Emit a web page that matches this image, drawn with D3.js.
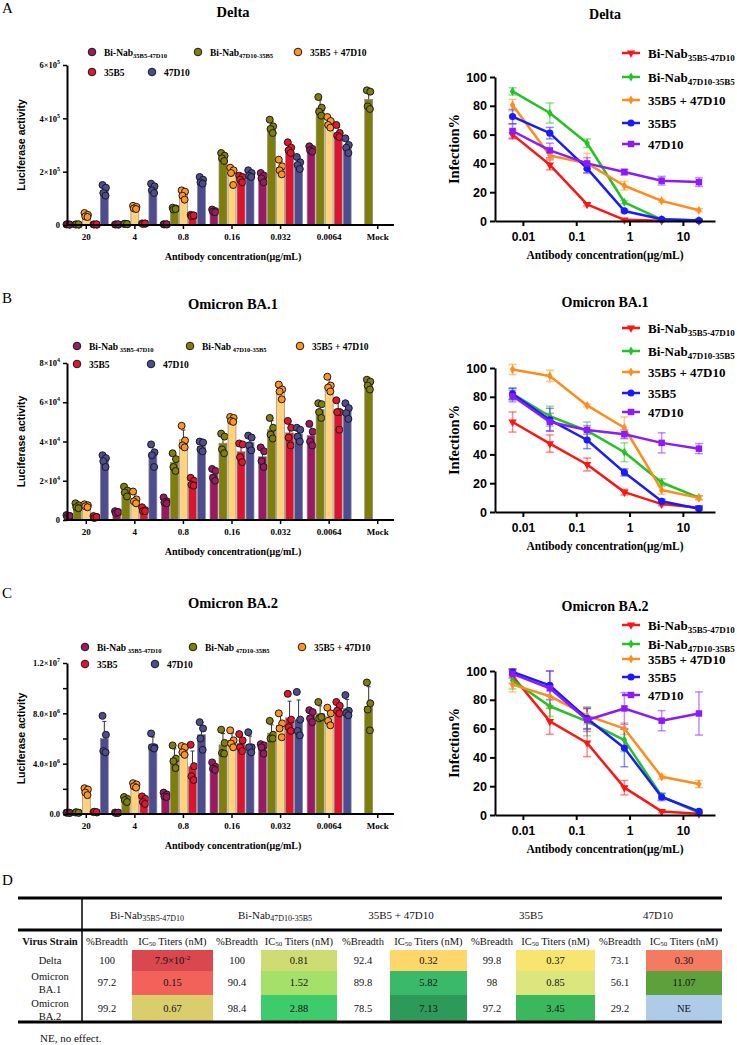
<!DOCTYPE html>
<html>
<head>
<meta charset="utf-8">
<script src="https://cdn.jsdelivr.net/npm/d3@7"></script>
<style>
  body { margin: 0; background: #fff; }
  svg { display: block; }
</style>
</head>
<body>
<svg id="fig" width="737" height="1045"></svg>
<script>
// ---------- data ----------
const concLabels = ["20", "4", "0.8", "0.16", "0.032", "0.0064"];
const barCats = concLabels.concat(["Mock"]);
const concValues = [20, 4, 0.8, 0.16, 0.032, 0.0064];

const seriesLabels = [["Bi-Nab", "35B5-47D10"], ["Bi-Nab", "47D10-35B5"], ["35B5 + 47D10", ""], ["35B5", ""], ["47D10", ""]];

// luciferase replicates, Delta (x1e5), order = concLabels (+ Mock for olive)
const deltaBn1 = [[0.02,0.01,0.03,0.02],[0.02,0.01,0.02,0.03],[0.03,0.02,0.02,0.03],[0.58,0.52,0.5,0.48],[1.95,1.85,1.75,1.6],[2.95,2.85,2.8,2.75]];
const deltaBn2 = [[0.02,0.01,0.02,0.03],[0.04,0.03,0.05,0.04],[0.65,0.62,0.58,0.6],[2.7,2.6,2.5,2.4],[3.95,3.7,3.6,3.45],[4.8,4.4,4.25,4.1],[5.05,5.0,4.45,4.35]];
const deltaCombo = [[0.45,0.38,0.32,0.3],[0.72,0.68,0.62,0.6],[1.3,1.25,1.1,0.95],[2.15,2.05,1.95,1.5],[2.45,2.2,2.05,1.9],[4.05,3.9,3.75,3.65]];
const delta35 = [[0.02,0.01,0.02,0.03],[0.06,0.05,0.04,0.06],[0.38,0.35,0.33,0.36],[1.85,1.8,1.7,1.6],[3.1,2.9,2.8,2.7],[3.75,3.45,3.35,3.3]];
const delta47 = [[1.5,1.4,1.2,1.1],[1.55,1.45,1.3,1.2],[1.8,1.7,1.6,1.55],[2.05,1.95,1.85,1.8],[2.55,2.35,2.25,2.1],[3.25,3.0,2.9,2.7]];
const deltaYTicks = [0, 2, 4, 6];
const deltaYTickLabels = [["0", ""], ["2×10", "5"], ["4×10", "5"], ["6×10", "5"]];

// Omicron BA.1 (x1e4)
const ba1Bn1 = [[0.25,0.2,0.15,0.2],[0.45,0.4,0.35,0.4],[1.15,0.95,0.9,0.85],[2.6,2.5,2.15,2.0],[3.7,3.5,3.0,2.7],[4.9,4.5,4.0,3.8]];
const ba1Bn2 = [[0.85,0.75,0.65,0.6],[1.7,1.5,1.4,1.2],[3.4,3.1,2.7,2.5],[4.4,4.25,3.6,3.4],[5.2,4.7,4.35,4.15],[5.95,5.9,5.5,5.2],[7.15,7.05,6.85,6.65]];
const ba1Combo = [[0.8,0.75,0.7,0.65],[1.45,1.05,0.95,0.85],[4.8,4.05,3.8,3.7],[5.25,5.2,5.05,5.0],[6.9,6.65,6.55,6.15],[7.3,6.85,6.75,6.55]];
const ba135 = [[0.2,0.15,0.1,0.15],[0.65,0.5,0.45,0.45],[2.15,2.0,1.8,1.75],[3.9,3.85,3.2,2.95],[5.05,4.7,4.2,3.8],[6.1,5.5,5.5,4.6]];
const ba147 = [[3.3,3.15,3.0,2.7],[3.85,3.45,3.3,2.7],[4.0,3.95,3.6,3.5],[4.3,4.2,3.8,3.55],[4.7,4.6,4.25,4.0],[5.95,5.7,5.45,5.15]];
const ba1YTicks = [0, 2, 4, 6, 8];
const ba1YTickLabels = [["0", ""], ["2×10", "4"], ["4×10", "4"], ["6×10", "4"], ["8×10", "4"]];

// Omicron BA.2 (x1e6)
const ba2Bn1 = [[0.1,0.08,0.12,0.1],[0.12,0.1,0.08,0.1],[1.7,1.55,1.4,1.35],[4.1,3.75,3.6,3.5],[5.55,5.45,5.3,4.8],[8.25,8.1,7.6,7.3]];
const ba2Bn2 = [[0.12,0.1,0.14,0.1],[1.35,1.2,1.1,0.95],[5.45,4.4,4.2,3.65],[6.7,5.65,4.85,4.8],[7.4,6.3,6.0,6.0],[8.9,7.7,7.6,7.7],[10.45,8.8,8.3,6.65]];
const ba2Combo = [[2.05,1.95,1.7,1.5],[2.45,2.35,2.2,2.1],[5.4,5.3,4.9,4.7],[6.65,5.85,5.6,5.3],[8.0,7.2,6.8,6.1],[8.45,8.0,7.4,7.05]];
const ba235 = [[0.15,0.12,0.18,0.15],[1.4,1.2,0.95,0.8],[5.5,3.8,3.0,2.7],[6.35,5.85,5.3,5.0],[9.55,7.5,6.9,6.6],[8.9,8.6,8.2,8.0]];
const ba247 = [[7.8,6.3,5.0,4.9],[6.4,5.3,5.3,5.2],[7.3,6.8,6.0,5.1],[6.5,5.3,5.3,4.9],[9.7,7.5,6.6,6.25],[9.45,8.2,8.0,7.85]];
const ba2YTicks = [0, 2, 4, 6, 8, 10, 12];
const ba2YTickLabels = [["0.0", ""], null, ["4.0×10", "6"], null, ["8.0×10", "6"], null, ["1.2×10", "7"]];

// infection % (mean, error), order = concValues
const deltaInf = [[0.1,0.2,0.8,11.5,39,60],[0.5,1,13,54,75,90],[7.5,14,24.5,40,45.5,80.5],[0.3,1.2,7,36.5,61,72.5],[27,28,34,40,49,62.5]];
const deltaErr = [[0.1,0.2,0.5,1,3.5,3],[0.3,0.5,1,3,7,2.5],[1,1,3,7,2,4],[0.3,0.5,1,3,4,5],[3,3,2,4,5,5]];
const ba1Inf = [[3,5.5,13.8,33,47.5,62.5],[10,20.5,41.5,56.5,66.5,82],[9.8,15.3,58.5,74,94.5,99],[2.3,7.5,27.5,50,64,82],[44,48,54,57,62.5,80.5]];
const ba1Err = [[0.8,1,2,4.5,6,7],[1.2,2.5,6.5,6,7,4],[1.5,3,7.5,1,4,3.5],[1,1.5,2.5,6,8,4],[3.5,7,3,3,6,4]];
const ba2Inf = [[0.8,2.5,19,50,65,96.5],[1.5,13,52,65,75.5,93.5],[21.5,26.5,60,69,82.5,90.5],[2.5,12.5,46.5,67,90,99.3],[70.5,65.5,74,66,88,98]];
const ba2Err = [[0.5,1,5,9.5,9,5],[0.5,2,8,10,7,6],[2.5,1.5,4,6,8,5],[1,2.5,13,7,10,2],[15,7,11,8,12,3]];
const infTicks = [0, 20, 40, 60, 80, 100];
const concTicks = [0.01, 0.1, 1, 10];

// table D
const tableStrains = [["Delta"], ["Omicron", "BA.1"], ["Omicron", "BA.2"]];
const breadth = [[100, 100, 92.4, 99.8, 73.1], [97.2, 90.4, 89.8, 98, 56.1], [99.2, 98.4, 78.5, 97.2, 29.2]];
const ic50 = [[0.079, 0.81, 0.32, 0.37, 0.30], [0.15, 1.52, 5.82, 0.85, 11.07], [0.67, 2.88, 7.13, 3.45, null]];
const ic50Colors = [["#d9474f", "#cfdc74", "#fdd76c", "#f8e56f", "#f47a62"],
                    ["#f3625a", "#a5e06b", "#3bb96a", "#dbe77e", "#5da13b"],
                    ["#dacd6b", "#3dcb6b", "#2e9a5a", "#3bb85e", "#aecbea"]];

// ---------- style ----------
const SERIF = "'Liberation Serif','Times New Roman',serif";
const SANS = "'Liberation Sans',Arial,sans-serif";
const barFill = ["#9b1862", "#7e7e08", "#ffd27c", "#dc1430", "#4e4c90"];
const dotFill = ["#9b1862", "#7e7e08", "#ff9422", "#e3142e", "#4e4c90"];
const lineColor = ["#ff1414", "#22c322", "#ff8c1a", "#1a1aff", "#8c1aff"];
const markerType = [d3.symbolTriangle, d3.symbolDiamond, d3.symbolDiamond, d3.symbolCircle, d3.symbolSquare];
const markerSize = [30, 24, 24, 40, 42];
const markerRot = [180, 0, 0, 0, 0];

const svg = d3.select("#fig");

function addSubText(sel, main, sub, subSize, dy, space) {
  sel.append("tspan").text(main);
  if (sub) sel.append("tspan").attr("font-size", subSize).attr("dy", dy).text((space ? " " : "") + sub);
}

// panel letters
[["A", 13], ["B", 303], ["C", 598], ["D", 885]].forEach(p => {
  svg.append("text").attr("x", 2).attr("y", p[1]).attr("font-family", SERIF).attr("font-size", 15).text(p[0]);
});

// ---------- bar charts ----------
const barPanels = [
  { title: "Delta", data: [deltaBn1, deltaBn2, deltaCombo, delta35, delta47], ticks: deltaYTicks, tickLabels: deltaYTickLabels,
    zero: 225, top: 65, titleY: 17, leg: [[92, 52], [198, 52], [298, 52], [92, 72], [152, 72]], legSpace: false },
  { title: "Omicron BA.1", data: [ba1Bn1, ba1Bn2, ba1Combo, ba135, ba147], ticks: ba1YTicks, tickLabels: ba1YTickLabels,
    zero: 520, top: 363, titleY: 309, leg: [[77, 346], [190, 346], [300, 346], [77, 364], [151, 364]], legSpace: true },
  { title: "Omicron BA.2", data: [ba2Bn1, ba2Bn2, ba2Combo, ba235, ba247], ticks: ba2YTicks, tickLabels: ba2YTickLabels,
    zero: 814, top: 663, titleY: 608, leg: [[85, 647], [193, 647], [302, 647], [85, 664], [155, 664]], legSpace: true }
];

const jitter = [-1.8, 1.6, -1.0, 1.2];

barPanels.forEach(cfg => {
  const g = svg.append("g");
  const yMax = cfg.ticks[cfg.ticks.length - 1];
  const y = d3.scaleLinear().domain([0, yMax]).range([cfg.zero, cfg.top]);
  const x = d3.scaleBand().domain(barCats).range([62, 402]);
  const xi = d3.scaleBand().domain(d3.range(5)).range([-22, 22]).paddingInner(0.12);

  g.append("text").attr("x", 233).attr("y", cfg.titleY).attr("text-anchor", "middle")
    .attr("font-family", SERIF).attr("font-weight", "bold").attr("font-size", 14.5).text(cfg.title);

  cfg.data.forEach((series, s) => {
    series.forEach((reps, i) => {
      const cx = x(barCats[i]) + x.bandwidth() / 2 + xi(s) + xi.bandwidth() / 2;
      const m = d3.mean(reps);
      const sd = d3.deviation(reps);
      g.append("rect")
        .attr("x", cx - xi.bandwidth() / 2).attr("width", xi.bandwidth())
        .attr("y", y(m)).attr("height", y(0) - y(m))
        .attr("fill", barFill[s]).attr("stroke", "#8c8c8c").attr("stroke-width", 0.7);
      g.append("line").attr("x1", cx).attr("x2", cx).attr("y1", y(m)).attr("y2", y(m + sd))
        .attr("stroke", "#333").attr("stroke-width", 1);
      g.append("line").attr("x1", cx - 2).attr("x2", cx + 2).attr("y1", y(m + sd)).attr("y2", y(m + sd))
        .attr("stroke", "#333").attr("stroke-width", 1);
      reps.forEach((v, j) => {
        g.append("circle").attr("cx", cx + jitter[j]).attr("cy", y(v)).attr("r", 3.5)
          .attr("fill", dotFill[s]).attr("stroke", "#1a1a1a").attr("stroke-width", 1);
      });
    });
  });

  // axes
  const xAx = g.append("g").attr("transform", `translate(0,${cfg.zero})`)
    .call(d3.axisBottom(x).tickSize(4).tickSizeOuter(0));
  xAx.select(".domain").attr("d", "M67,0H394").attr("stroke-width", 2);
  xAx.selectAll(".tick line").attr("stroke-width", 1.5);
  xAx.selectAll(".tick text").attr("font-family", SERIF).attr("font-weight", "bold").attr("font-size", 9).attr("dy", "0.9em");

  const yAx = g.append("g").attr("transform", "translate(67,0)")
    .call(d3.axisLeft(y).tickValues(cfg.ticks).tickSize(4).tickSizeOuter(0));
  yAx.select(".domain").attr("stroke-width", 2);
  yAx.selectAll(".tick line").attr("stroke-width", 1.5);
  yAx.selectAll(".tick text").each(function(d, i) {
    const lab = cfg.tickLabels[i];
    const t = d3.select(this).text(null).attr("font-family", SERIF).attr("font-weight", "bold").attr("font-size", 8.5);
    if (!lab) return;
    t.append("tspan").text(lab[0]);
    if (lab[1]) t.append("tspan").attr("dy", -4).attr("font-size", 6).text(lab[1]);
  });

  g.append("text").attr("transform", `translate(25,${(cfg.zero + cfg.top) / 2}) rotate(-90)`)
    .attr("text-anchor", "middle").attr("font-family", SANS).attr("font-weight", "bold").attr("font-size", 10.5)
    .text("Luciferase activity");
  g.append("text").attr("x", 233).attr("y", cfg.zero + 35).attr("text-anchor", "middle")
    .attr("font-family", SERIF).attr("font-weight", "bold").attr("font-size", 10)
    .text("Antibody concentration(μg/mL)");

  // legend
  cfg.leg.forEach((p, s) => {
    g.append("circle").attr("cx", p[0]).attr("cy", p[1]).attr("r", 3.8)
      .attr("fill", dotFill[s]).attr("stroke", "#1a1a1a").attr("stroke-width", 1);
    const t = g.append("text").attr("x", p[0] + 12).attr("y", p[1] + 3.5)
      .attr("font-family", SERIF).attr("font-weight", "bold").attr("font-size", 9.5);
    addSubText(t, seriesLabels[s][0], seriesLabels[s][1], 6.5, 2, cfg.legSpace);
  });
});

// ---------- infection line charts ----------
const linePanels = [
  { title: "Delta", vals: deltaInf, errs: deltaErr, zero: 221, titleY: 19, legY: [53, 77, 100, 123, 144] },
  { title: "Omicron BA.1", vals: ba1Inf, errs: ba1Err, zero: 512, titleY: 307, legY: [328, 351, 372, 393, 412] },
  { title: "Omicron BA.2", vals: ba2Inf, errs: ba2Err, zero: 815, titleY: 611, legY: [625, 644, 659, 677, 695] }
];

linePanels.forEach(cfg => {
  const g = svg.append("g");
  const x = d3.scaleLog().domain([0.003, 40]).range([495, 715]);
  const y = d3.scaleLinear().domain([0, 100]).range([cfg.zero, cfg.zero - 144]);

  g.append("text").attr("x", 605).attr("y", cfg.titleY).attr("text-anchor", "middle")
    .attr("font-family", SERIF).attr("font-weight", "bold").attr("font-size", 14).text(cfg.title);

  // error bars
  cfg.vals.forEach((vals, s) => {
    vals.forEach((v, i) => {
      const e = cfg.errs[s][i];
      const cx = x(concValues[i]);
      const eg = g.append("g").attr("stroke", lineColor[s]).attr("stroke-opacity", 0.5).attr("stroke-width", 1.5);
      eg.append("line").attr("x1", cx).attr("x2", cx).attr("y1", y(Math.max(0, v - e))).attr("y2", y(v + e));
      eg.append("line").attr("x1", cx - 4).attr("x2", cx + 4).attr("y1", y(v + e)).attr("y2", y(v + e));
      eg.append("line").attr("x1", cx - 4).attr("x2", cx + 4).attr("y1", y(Math.max(0, v - e))).attr("y2", y(Math.max(0, v - e)));
    });
  });

  const line = d3.line().x((d, i) => x(concValues[i])).y(d => y(d));
  cfg.vals.forEach((vals, s) => {
    g.append("path").attr("d", line(vals)).attr("fill", "none")
      .attr("stroke", lineColor[s]).attr("stroke-width", 2.5).attr("stroke-linejoin", "round");
    const sym = d3.symbol().type(markerType[s]).size(markerSize[s]);
    vals.forEach((v, i) => {
      g.append("path").attr("d", sym())
        .attr("transform", `translate(${x(concValues[i])},${y(v)}) rotate(${markerRot[s]})`)
        .attr("fill", lineColor[s]);
    });
  });

  const xAx = g.append("g").attr("transform", `translate(0,${cfg.zero})`)
    .call(d3.axisBottom(x).tickValues(concTicks).tickFormat(d => String(d)).tickSize(5).tickSizeOuter(0));
  xAx.select(".domain").attr("stroke-width", 2);
  xAx.selectAll(".tick line").attr("stroke-width", 2);
  xAx.selectAll(".tick text").attr("font-family", SANS).attr("font-weight", "bold").attr("font-size", 12).attr("dy", "1em");

  const yAx = g.append("g").attr("transform", "translate(495,0)")
    .call(d3.axisLeft(y).tickValues(infTicks).tickSize(5).tickSizeOuter(0));
  yAx.select(".domain").attr("stroke-width", 2);
  yAx.selectAll(".tick line").attr("stroke-width", 2);
  yAx.selectAll(".tick text").attr("font-family", SANS).attr("font-weight", "bold").attr("font-size", 12.5);

  g.append("text").attr("transform", `translate(459,${cfg.zero - 72}) rotate(-90)`)
    .attr("text-anchor", "middle").attr("font-family", SERIF).attr("font-weight", "bold").attr("font-size", 14.5)
    .text("Infection%");
  g.append("text").attr("x", 605).attr("y", cfg.zero + 38).attr("text-anchor", "middle")
    .attr("font-family", SERIF).attr("font-weight", "bold").attr("font-size", 11.5)
    .text("Antibody concentration(μg/mL)");

  cfg.legY.forEach((ly, s) => {
    g.append("line").attr("x1", 622).attr("x2", 640).attr("y1", ly).attr("y2", ly)
      .attr("stroke", lineColor[s]).attr("stroke-width", 2.5);
    g.append("path").attr("d", d3.symbol().type(markerType[s]).size(markerSize[s])())
      .attr("transform", `translate(631,${ly}) rotate(${markerRot[s]})`).attr("fill", lineColor[s]);
    const t = g.append("text").attr("x", 648).attr("y", ly + 4.5)
      .attr("font-family", SERIF).attr("font-weight", "bold").attr("font-size", 13);
    addSubText(t, seriesLabels[s][0], seriesLabels[s][1], 9, 3, false);
  });
});

// ---------- table D ----------
const tg = svg.append("g").attr("font-family", SERIF).attr("font-size", 10.5).attr("fill", "#111");
const breadthX = [107, 237, 363, 492, 620];
const cellX = [[132, 213], [261, 337], [390, 467], [516, 595], [646, 722]];
const groupX = [147, 275, 401, 531, 658];
const rowY = [[950, 971], [971, 995], [995, 1021]];

rowY.forEach((r, ri) => {
  cellX.forEach((c, ci) => {
    tg.append("rect").attr("x", c[0]).attr("y", r[0]).attr("width", c[1] - c[0]).attr("height", r[1] - r[0])
      .attr("fill", ic50Colors[ri][ci]);
  });
});

[898, 930, 1022].forEach(ly => {
  tg.append("line").attr("x1", 18).attr("x2", 722).attr("y1", ly).attr("y2", ly)
    .attr("stroke", "#000").attr("stroke-width", 3);
});
tg.append("line").attr("x1", 82).attr("x2", 82).attr("y1", 898).attr("y2", 1022).attr("stroke", "#000").attr("stroke-width", 1.5);

seriesLabels.forEach((lab, i) => {
  const t = tg.append("text").attr("x", groupX[i]).attr("y", 919).attr("text-anchor", "middle").attr("font-size", 11);
  addSubText(t, lab[0], lab[1], 8, 2, false);
});

tg.append("text").attr("x", 50).attr("y", 945).attr("text-anchor", "middle").attr("font-weight", "bold").text("Virus Strain");
breadthX.forEach((bx, i) => {
  tg.append("text").attr("x", bx).attr("y", 945).attr("text-anchor", "middle").text("%Breadth");
  const t = tg.append("text").attr("x", (cellX[i][0] + cellX[i][1]) / 2).attr("y", 945).attr("text-anchor", "middle");
  t.append("tspan").text("IC");
  t.append("tspan").attr("font-size", 7).attr("dy", 1).text("50");
  t.append("tspan").attr("dy", -1).text(" Titers (nM)");
});

const valueY = [964, 986, 1012];
const strainY = [[964], [979.5, 993], [1006.5, 1020]];
tableStrains.forEach((lines, ri) => {
  lines.forEach((s, k) => {
    tg.append("text").attr("x", 50).attr("y", strainY[ri][k]).attr("text-anchor", "middle").text(s);
  });
  breadth[ri].forEach((b, ci) => {
    tg.append("text").attr("x", breadthX[ci]).attr("y", valueY[ri]).attr("text-anchor", "middle").text(String(b));
    const v = ic50[ri][ci];
    const t = tg.append("text").attr("x", (cellX[ci][0] + cellX[ci][1]) / 2).attr("y", valueY[ri]).attr("text-anchor", "middle");
    if (v === null) {
      t.text("NE");
    } else if (v < 0.1) {
      const e = Math.floor(Math.log10(v));
      t.append("tspan").text((v / Math.pow(10, e)).toFixed(1) + "×10");
      t.append("tspan").attr("font-size", 7).attr("dy", -4).text(String(e));
    } else {
      t.text(v.toFixed(2));
    }
  });
});

tg.append("text").attr("x", 40).attr("y", 1042).attr("font-size", 11).text("NE, no effect.");
</script>
</body>
</html>
